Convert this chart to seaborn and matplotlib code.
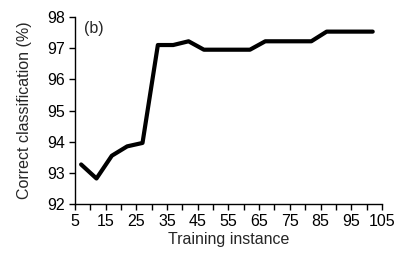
import matplotlib
matplotlib.use("Agg")
import pandas as pd
import matplotlib.pyplot as plt
import seaborn as sns

instances = [7, 12, 17, 22, 27, 32, 37, 42, 47, 52, 57, 62, 67, 72, 77, 82, 87, 92, 97, 102]
accuracy = [93.27, 92.82, 93.55, 93.85, 93.96, 97.1, 97.1, 97.22, 96.95, 96.95, 96.95, 96.95,
            97.22, 97.22, 97.22, 97.22, 97.53, 97.53, 97.53, 97.53]
x_ticks = list(range(5, 106, 10))
y_ticks = list(range(92, 99))

df = pd.DataFrame({'instance': instances, 'accuracy': accuracy})

sns.set_theme(style="ticks")
plt.rcParams['font.family'] = ['Liberation Sans', 'DejaVu Sans']

fig = plt.figure(figsize=(4.12, 2.57), dpi=100)
ax = fig.add_axes([0.182, 0.206, 0.745, 0.728])

sns.lineplot(data=df, x='instance', y='accuracy', color='black', linewidth=3, ax=ax)

ax.set_xlim(5, 105)
ax.set_ylim(92, 98)
ax.set_xticks(x_ticks)
ax.set_xticks(range(5, 106, 5), minor=True)
ax.set_yticks(y_ticks)
ax.tick_params(axis='both', which='both', direction='out', length=4, width=1, colors='black', labelsize=11.5, pad=3)
sns.despine(ax=ax)
for s in ['left', 'bottom']:
    ax.spines[s].set_color('black')
    ax.spines[s].set_linewidth(1)

ax.set_xlabel('Training instance', fontsize=11.5, labelpad=2)
ax.set_ylabel('Correct classification (%)', fontsize=11.5, labelpad=11)
ax.text(0.03, 0.98, '(b)', transform=ax.transAxes, fontsize=11.5, va='top', ha='left')

plt.savefig('out.png', dpi=100)
